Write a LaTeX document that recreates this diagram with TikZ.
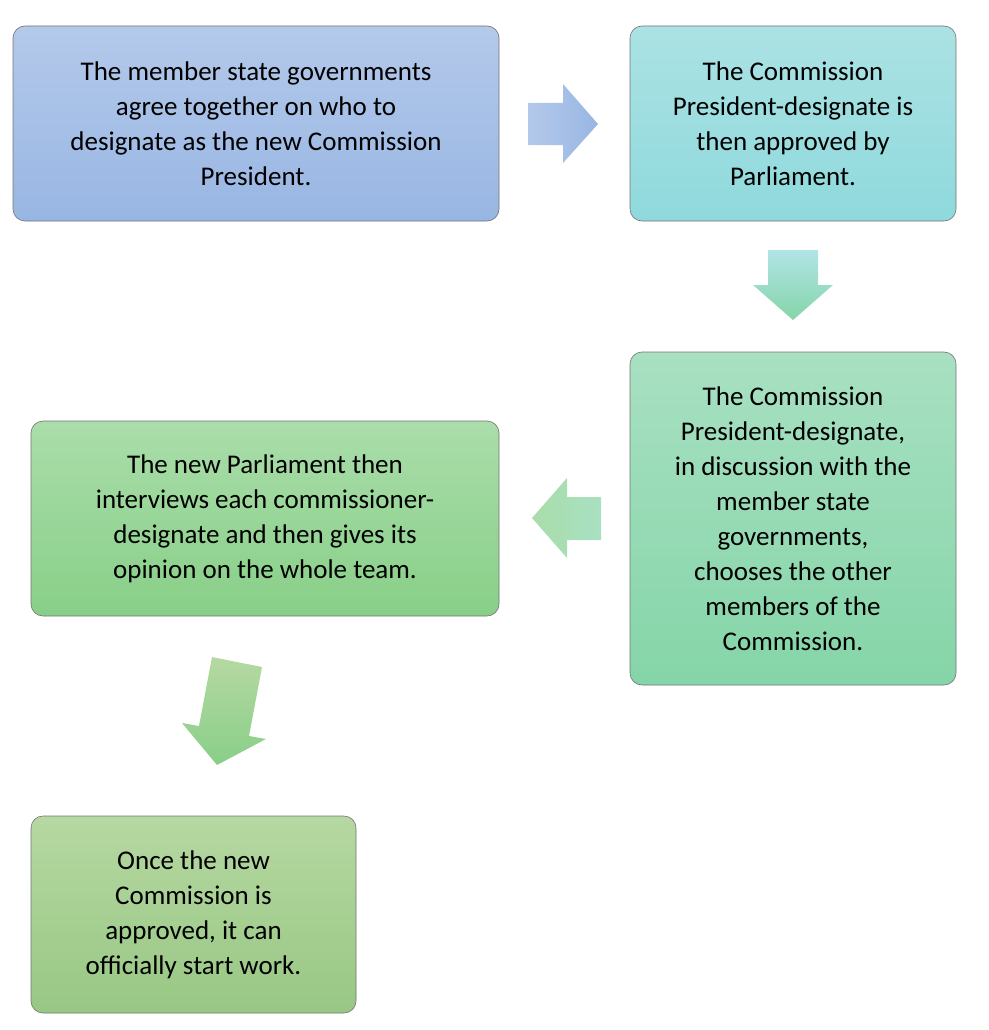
\documentclass[tikz,border=0pt]{standalone}
\usepackage{fontspec}
\setmainfont{Carlito}
\begin{document}
\begin{tikzpicture}[x=1pt,y=-1pt,
  box/.style={draw=black!55,line width=0.6pt,rounded corners=12pt,align=center,
    font=\fontsize{27}{35}\selectfont,inner sep=0pt,anchor=north west}]
\useasboundingbox (0,0) rectangle (988,1030);
\newcommand{\mybox}[8]{%
  \path[box,top color=#6,bottom color=#7] (#2,#3) rectangle (#4,#5);
  \node[align=center,font=\fontsize{27}{35}\selectfont] (#1) at ({(#2+#4)/2},{(#3+#5)/2}) {#8};}
\definecolor{b1t}{HTML}{B4C9EA}\definecolor{b1b}{HTML}{98B6E3}
\definecolor{b2t}{HTML}{ABE2E4}\definecolor{b2b}{HTML}{8FD9DC}
\definecolor{b3t}{HTML}{A8E0C2}\definecolor{b3b}{HTML}{85D5A8}
\definecolor{b4t}{HTML}{AADDAA}\definecolor{b4b}{HTML}{88CF88}
\definecolor{b5t}{HTML}{B6D8A2}\definecolor{b5b}{HTML}{98C784}
\mybox{n1}{13}{26}{499}{221}{b1t}{b1b}{The member state governments\\agree together on who to\\designate as the new Commission\\President.}
\mybox{n2}{630}{26}{956}{221}{b2t}{b2b}{The Commission\\President-designate is\\then approved by\\Parliament.}
\mybox{n3}{630}{352}{956}{685}{b3t}{b3b}{The Commission\\President-designate,\\in discussion with the\\member state\\governments,\\chooses the other\\members of the\\Commission.}
\mybox{n4}{31}{421}{499}{616}{b4t}{b4b}{The new Parliament then\\interviews each commissioner-\\designate and then gives its\\opinion on the whole team.}
\mybox{n5}{31}{816}{356}{1013}{b5t}{b5b}{Once the new\\Commission is\\approved, it can\\officially start work.}
% arrows
\shade[left color=b1t,right color=b1b] (528,103) -- (563,103) -- (563,84) -- (598,124) -- (563,163) -- (563,145) -- (528,145) -- cycle;
\shade[top color=b2b!70,bottom color=b3b] (768,250) -- (818,250) -- (818,285) -- (833,285) -- (793,320) -- (753,285) -- (768,285) -- cycle;
\shade[left color=b4t,right color=b3t] (601,497) -- (567,497) -- (567,478) -- (532,518) -- (567,558) -- (567,540) -- (601,540) -- cycle;
\shade[top color=b5t,bottom color=b4b] (212,657) -- (262,667) -- (249,736) -- (266,739) -- (217,765) -- (182,723) -- (199,726) -- cycle;
\end{tikzpicture}
\end{document}
